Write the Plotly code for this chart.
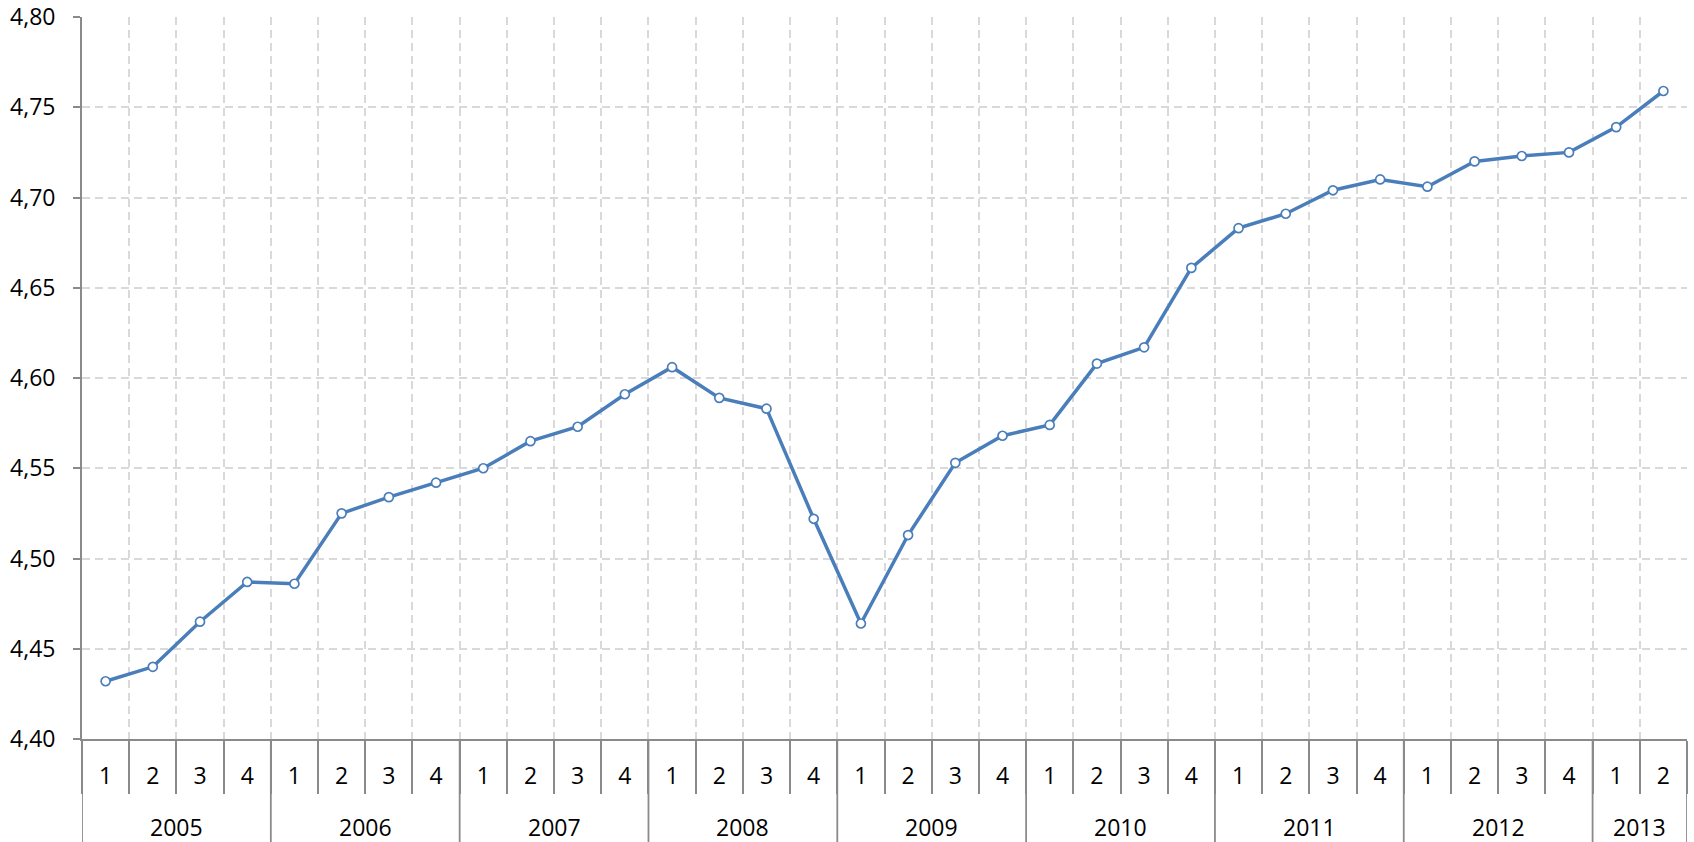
import plotly.graph_objects as go

# Quarterly series, 2005 Q1 .. 2013 Q2
year_labels = ["2005", "2006", "2007", "2008", "2009", "2010", "2011", "2012", "2013"]
quarters_per_year = [4, 4, 4, 4, 4, 4, 4, 4, 2]
quarter_labels = ["1", "2", "3", "4"] * 8 + ["1", "2"]
values = [
    4.432, 4.440, 4.465, 4.487,
    4.486, 4.525, 4.534, 4.542,
    4.550, 4.565, 4.573, 4.591,
    4.606, 4.589, 4.583, 4.522,
    4.464, 4.513, 4.553, 4.568,
    4.574, 4.608, 4.617, 4.661,
    4.683, 4.691, 4.704, 4.710,
    4.706, 4.720, 4.723, 4.725,
    4.739, 4.759,
]

LINE_BLUE = "#4a7ebb"
AXIS_GREY = "#8a8a8a"
GRID_GREY = "#d9d9d9"
FONT = dict(family="Open Sans, Lato, sans-serif", size=23, color="#000000")

W, H = 1694, 842
M = dict(l=82, r=7, t=17, b=103)
plot_h = H - M["t"] - M["b"]

x = list(range(len(values)))
boundaries = [i - 0.5 for i in range(len(values) + 1)]

fig = go.Figure()
fig.add_trace(go.Scatter(
    x=x, y=values, mode="lines+markers",
    line=dict(color=LINE_BLUE, width=3.5),
    marker=dict(symbol="circle", size=9, color="white",
                line=dict(color=LINE_BLUE, width=1.7)),
    showlegend=False, hoverinfo="y",
))

# year dividers running down through the label band, and year captions
start = 0
year_edges = [-0.5]
for label, n in zip(year_labels, quarters_per_year):
    mid = start + (n - 1) / 2
    fig.add_annotation(x=mid, y=-88 / plot_h, xref="x", yref="paper",
                       text=label, showarrow=False, font=FONT,
                       xanchor="center", yanchor="middle")
    start += n
    year_edges.append(start - 0.5)

for xe in year_edges:
    fig.add_shape(type="line", xref="x", yref="paper",
                  x0=xe, x1=xe, y0=0, y1=-(M["b"] + 5) / plot_h,
                  line=dict(color=AXIS_GREY, width=1.8), layer="above")

fig.update_xaxes(
    range=[-0.5, len(values) - 0.5],
    tickmode="array", tickvals=x, ticktext=quarter_labels,
    ticks="", showgrid=False, zeroline=False, automargin=False,
    showline=True, linecolor=AXIS_GREY, linewidth=1.8,
    tickfont=FONT, ticklabelstandoff=15,
    minor=dict(tickmode="array", tickvals=boundaries,
               ticks="outside", ticklen=53, tickcolor=AXIS_GREY, tickwidth=1.8,
               showgrid=True, gridcolor=GRID_GREY, gridwidth=1.5,
               griddash="8px,5px"),
)

fig.update_yaxes(
    range=[4.40, 4.80], tickmode="linear", tick0=4.40, dtick=0.05,
    tickformat=".2f", automargin=False,
    ticks="outside", ticklen=7, tickcolor=AXIS_GREY, tickwidth=1.8,
    showline=True, linecolor=AXIS_GREY, linewidth=1.8,
    showgrid=True, gridcolor=GRID_GREY, gridwidth=1.5, griddash="8px,5px",
    zeroline=False, tickfont=FONT, ticklabelstandoff=13,
)

fig.update_layout(
    width=W, height=H, margin=M,
    paper_bgcolor="white", plot_bgcolor="white",
    separators=", ",
    font=FONT,
)

fig.write_html("out.html")
